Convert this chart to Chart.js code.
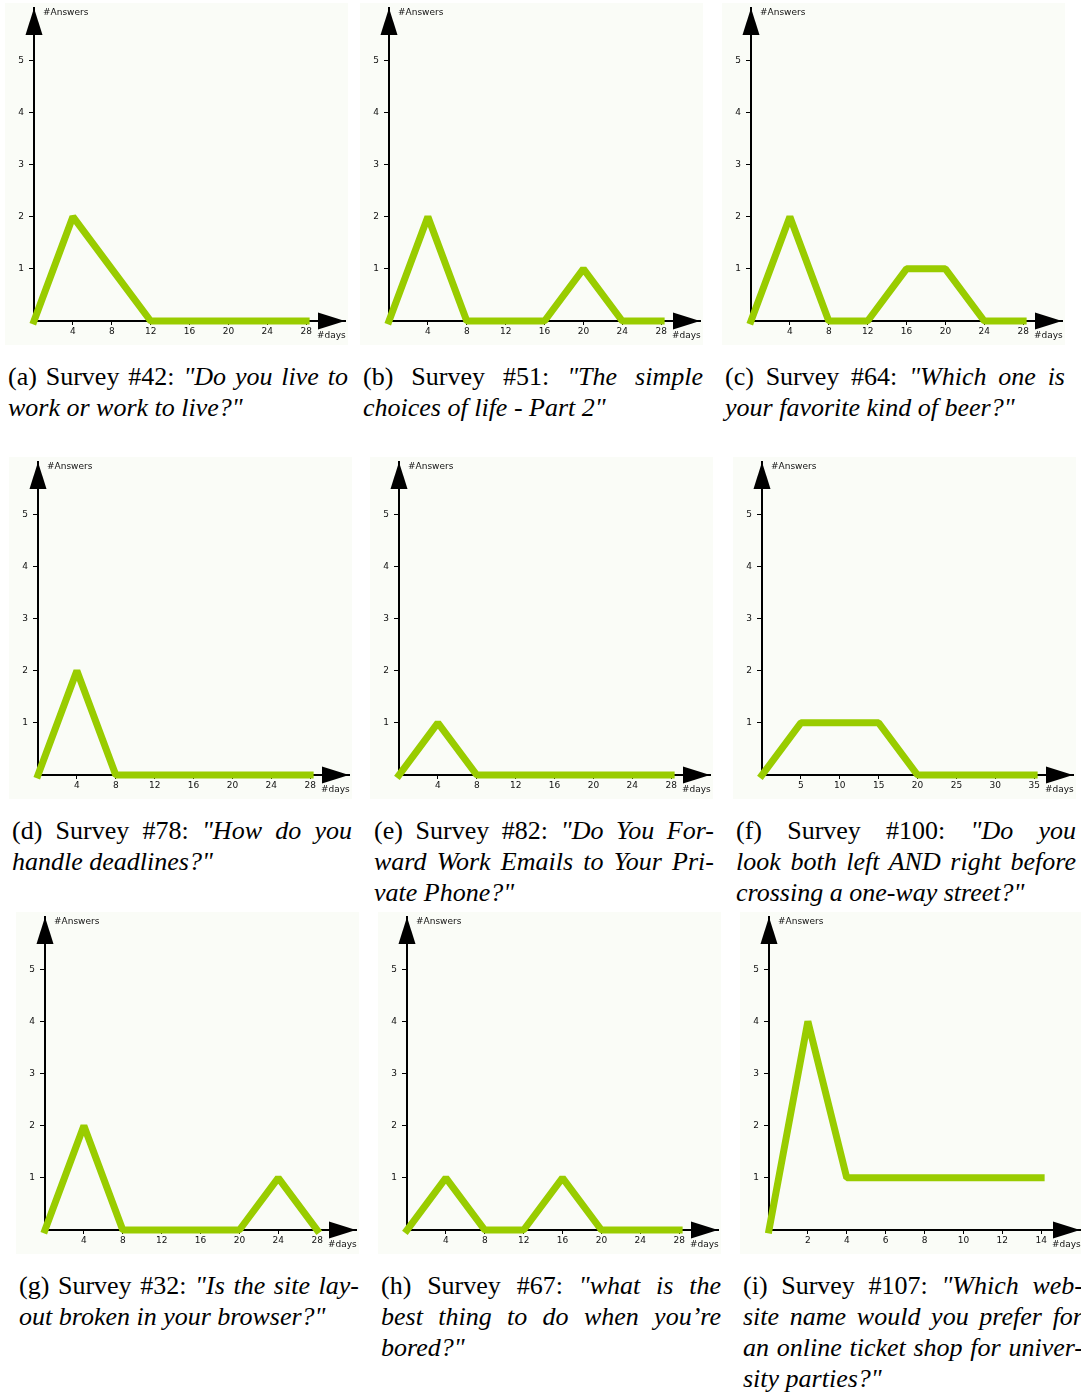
<!DOCTYPE html>
<html>
<head>
<meta charset="utf-8">
<title>Answers per day for nine surveys</title>
<script src="https://cdn.jsdelivr.net/npm/chart.js@4/dist/chart.umd.min.js"></script>
<style>
  html, body { margin: 0; padding: 0; background: #ffffff; }
  body { width: 1081px; height: 1393px; position: relative; overflow: hidden; }
  canvas.panel { position: absolute; }
  .cap {
    position: absolute; width: 340px;
    font-family: "Liberation Serif", "Times New Roman", serif;
    font-size: 26px; line-height: 31px; color: #000;
  }
  .cap div { text-align: justify; text-align-last: justify; }
  .cap div.last { text-align: left; text-align-last: left; }
</style>
</head>
<body>
<script>
// ---- data: day positions (x) and number of answers (y) ----
const days28 = [0, 4, 8, 12, 16, 20, 24, 28];
const days35 = [0, 5, 10, 15, 20, 25, 30, 35];
const days14 = [0, 2, 4, 6, 8, 10, 12, 14];

const answers42  = [0, 2, 1, 0, 0, 0, 0, 0];
const answers51  = [0, 2, 0, 0, 0, 1, 0, 0];
const answers64  = [0, 2, 0, 0, 1, 1, 0, 0];
const answers78  = [0, 2, 0, 0, 0, 0, 0, 0];
const answers82  = [0, 1, 0, 0, 0, 0, 0, 0];
const answers100 = [0, 1, 1, 1, 0, 0, 0, 0];
const answers32  = [0, 2, 0, 0, 0, 0, 1, 0];
const answers67  = [0, 1, 0, 0, 1, 0, 0, 0];
const answers107 = [0, 4, 1, 1, 1, 1, 1, 1];

// ---- tick labels ----
const dayTicks28 = [4, 8, 12, 16, 20, 24, 28];
const dayTicks35 = [5, 10, 15, 20, 25, 30, 35];
const dayTicks14 = [2, 4, 6, 8, 10, 12, 14];
const answerTicks = [1, 2, 3, 4, 5];

// axis extents (arrow tips)
const dayAxisEnd28 = 32, dayAxisEnd35 = 40, dayAxisEnd14 = 16;
const answerAxisEnd = 6;

const yTitle = '#Answers';
const xTitle = '#days';

// ---- captions ----
const captions = [
  ['(a) Survey #42: <i>"Do you live to</i>', '<i>work or work to live?"</i>'],
  ['(b) Survey #51: <i>"The simple</i>', '<i>choices of life - Part 2"</i>'],
  ['(c) Survey #64: <i>"Which one is</i>', '<i>your favorite kind of beer?"</i>'],
  ['(d) Survey #78: <i>"How do you</i>', '<i>handle deadlines?"</i>'],
  ['(e) Survey #82: <i>"Do You For-</i>', '<i>ward Work Emails to Your Pri-</i>', '<i>vate Phone?"</i>'],
  ['(f) Survey #100: <i>"Do you</i>', '<i>look both left AND right before</i>', '<i>crossing a one-way street?"</i>'],
  ['(g) Survey #32: <i>"Is the site lay-</i>', '<i>out broken in your browser?"</i>'],
  ['(h) Survey #67: <i>"what is the</i>', '<i>best thing to do when you’re</i>', '<i>bored?"</i>'],
  ['(i) Survey #107: <i>"Which web-</i>', '<i>site name would you prefer for</i>', '<i>an online ticket shop for univer-</i>', '<i>sity parties?"</i>']
];

// ---- panel series ----
const series = [
  { days: days28, answers: answers42,  ticks: dayTicks28, end: dayAxisEnd28 },
  { days: days28, answers: answers51,  ticks: dayTicks28, end: dayAxisEnd28 },
  { days: days28, answers: answers64,  ticks: dayTicks28, end: dayAxisEnd28 },
  { days: days28, answers: answers78,  ticks: dayTicks28, end: dayAxisEnd28 },
  { days: days28, answers: answers82,  ticks: dayTicks28, end: dayAxisEnd28 },
  { days: days35, answers: answers100, ticks: dayTicks35, end: dayAxisEnd35 },
  { days: days28, answers: answers32,  ticks: dayTicks28, end: dayAxisEnd28 },
  { days: days28, answers: answers67,  ticks: dayTicks28, end: dayAxisEnd28 },
  { days: days14, answers: answers107, ticks: dayTicks14, end: dayAxisEnd14 }
];

// ---- page layout: axis origin of each panel, caption boxes ----
const origins = [
  [34, 321], [389, 321], [750.7, 321],
  [37.7, 775], [399.3, 775], [761.7, 775],
  [45, 1230], [406.7, 1230], [769.3, 1230]
];
const captionBoxes = [
  [8, 361], [363, 361], [725, 361],
  [12, 815], [374, 815], [736, 815],
  [19, 1270], [381, 1270], [743, 1270]
];

const PANEL_W = 343, PANEL_H = 342;
const LEFT_GUTTER = 29, BOTTOM_GUTTER = 24, TOP_PAD = 5, RIGHT_PAD = 3;
const LINE_GREEN = '#99cc00';
const PANEL_BG = '#fafcf7';
const AXIS_FONT = { family: '"DejaVu Sans", Verdana, sans-serif', size: 9 };

// panel background
const panelBackground = {
  id: 'panelBackground',
  beforeDraw(chart) {
    const { ctx, width, height } = chart;
    ctx.save();
    ctx.fillStyle = PANEL_BG;
    ctx.fillRect(0, 0, width, height);
    ctx.restore();
  }
};

// arrow heads at the axis ends and the axis titles
const axisArrows = {
  id: 'axisArrows',
  afterDatasetsDraw(chart) {
    const { ctx } = chart;
    const xs = chart.scales.x, ys = chart.scales.y;
    const x0 = xs.getPixelForValue(0), y0 = ys.getPixelForValue(0);
    const xTip = xs.getPixelForValue(xs.max), yTip = ys.getPixelForValue(ys.max);
    const L = 27, H = 8.5;
    ctx.save();
    ctx.fillStyle = '#000';
    ctx.beginPath();
    ctx.moveTo(x0, yTip); ctx.lineTo(x0 - H, yTip + L); ctx.lineTo(x0 + H, yTip + L);
    ctx.closePath(); ctx.fill();
    ctx.beginPath();
    ctx.moveTo(xTip, y0); ctx.lineTo(xTip - L, y0 - H); ctx.lineTo(xTip - L, y0 + H);
    ctx.closePath(); ctx.fill();
    ctx.fillStyle = '#111';
    ctx.font = AXIS_FONT.size + 'px ' + AXIS_FONT.family;
    ctx.textAlign = 'left';
    ctx.textBaseline = 'middle';
    ctx.fillText(yTitle, x0 + 9, yTip + 4.5);
    ctx.fillText(xTitle, xTip - L - 1, y0 + 15);
    ctx.restore();
  }
};

series.forEach((s, i) => {
  const [ox, oy] = origins[i];
  const canvas = document.createElement('canvas');
  canvas.className = 'panel';
  canvas.width = PANEL_W; canvas.height = PANEL_H;
  canvas.style.left = (ox - LEFT_GUTTER) + 'px';
  canvas.style.top = (oy - (PANEL_H - BOTTOM_GUTTER)) + 'px';
  canvas.style.width = PANEL_W + 'px'; canvas.style.height = PANEL_H + 'px';
  document.body.appendChild(canvas);

  new Chart(canvas, {
    type: 'line',
    data: {
      datasets: [{
        data: s.days.map((d, k) => ({ x: d, y: s.answers[k] })),
        borderColor: LINE_GREEN,
        borderWidth: 7,
        borderCapStyle: 'square',
        borderJoinStyle: 'bevel',
        pointRadius: 0,
        fill: false,
        tension: 0,
        clip: false
      }]
    },
    options: {
      responsive: false,
      animation: false,
      devicePixelRatio: 1,
      events: [],
      layout: { padding: { top: TOP_PAD, right: RIGHT_PAD, left: 0, bottom: 0 } },
      plugins: { legend: { display: false }, tooltip: { enabled: false } },
      scales: {
        x: {
          type: 'linear', min: 0, max: s.end,
          border: { display: true, color: '#000', width: 2 },
          grid: { drawOnChartArea: false, drawTicks: true, tickLength: 4, color: '#000', lineWidth: 1 },
          ticks: { font: AXIS_FONT, color: '#111', padding: 1, maxRotation: 0, autoSkip: false,
                   callback: v => String(v) },
          afterBuildTicks: sc => { sc.ticks = s.ticks.map(v => ({ value: v })); },
          afterFit: sc => {
            sc.height = BOTTOM_GUTTER;
            sc.paddingLeft = 0; sc.paddingRight = 0; sc.paddingTop = 0; sc.paddingBottom = 0;
          }
        },
        y: {
          type: 'linear', min: 0, max: answerAxisEnd,
          border: { display: true, color: '#000', width: 2 },
          grid: { drawOnChartArea: false, drawTicks: true, tickLength: 5, color: '#000', lineWidth: 1 },
          ticks: { font: AXIS_FONT, color: '#111', padding: 5, autoSkip: false,
                   callback: v => String(v) },
          afterBuildTicks: sc => { sc.ticks = answerTicks.map(v => ({ value: v })); },
          afterFit: sc => {
            sc.width = LEFT_GUTTER;
            sc.paddingLeft = 0; sc.paddingRight = 0; sc.paddingTop = 0; sc.paddingBottom = 0;
          }
        }
      }
    },
    plugins: [panelBackground, axisArrows]
  });

  const cap = document.createElement('div');
  cap.className = 'cap';
  cap.style.left = captionBoxes[i][0] + 'px';
  cap.style.top = captionBoxes[i][1] + 'px';
  const lines = captions[i];
  cap.innerHTML = lines.map((ln, k) =>
    '<div' + (k === lines.length - 1 ? ' class="last"' : '') + '>' + ln + '</div>').join('');
  document.body.appendChild(cap);
});
</script>
</body>
</html>
